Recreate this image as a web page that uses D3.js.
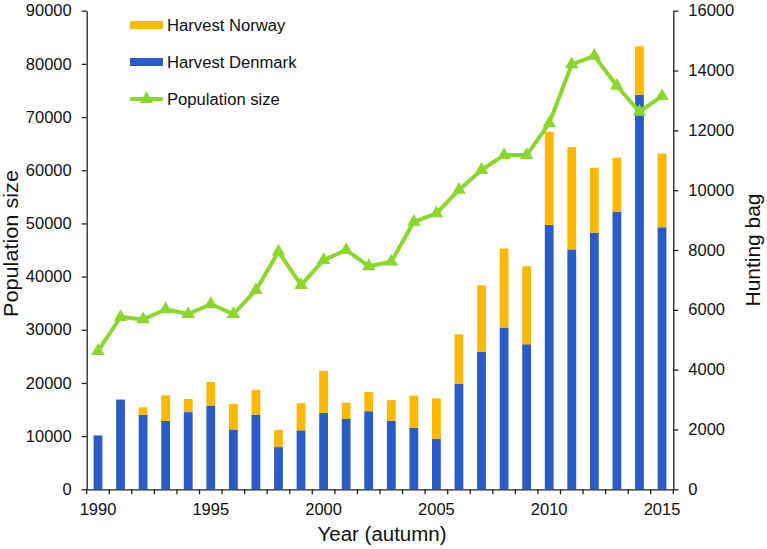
<!DOCTYPE html>
<html>
<head>
<meta charset="utf-8">
<script src="https://cdn.jsdelivr.net/npm/d3@7"></script>
<style>
  html, body { margin: 0; padding: 0; background: #fff; }
  svg { display: block; font-family: "Liberation Sans", Arial, sans-serif; }
</style>
</head>
<body>
<svg id="chart" width="767" height="549"></svg>
<script>
// ---------------- data ----------------
const years = [1990,1991,1992,1993,1994,1995,1996,1997,1998,1999,2000,2001,2002,
               2003,2004,2005,2006,2007,2008,2009,2010,2011,2012,2013,2014,2015];
const harvestDenmark = [1800,3000,2490,2290,2580,2800,2000,2490,1410,1970,2560,2350,2610,
                        2290,2060,1690,3520,4600,5410,4850,8840,8020,8580,9270,13190,8760];
const harvestNorway  = [0,0,250,850,440,790,850,830,570,910,1400,545,640,
                        690,1070,1350,1660,2220,2640,2610,3110,3420,2170,1815,1620,2460];
const populationSize = [26000,32400,31950,33850,32950,34850,32950,37450,44700,38400,43100,45000,41950,
                        42800,50300,51900,56300,60050,62850,62850,68800,79900,81500,75850,71000,73950];
const leftTicks  = [0,10000,20000,30000,40000,50000,60000,70000,80000,90000];
const rightTicks = [0,2000,4000,6000,8000,10000,12000,14000,16000];
const yearLabels = [1990,1995,2000,2005,2010,2015];
const seriesNames = ["Harvest Norway","Harvest Denmark","Population size"];

// ---------------- styles ----------------
const COL_NOR = "#ffb800", COL_DEN = "#2a5bc6", COL_POP = "#8ad82c";
const plot = {left: 86.7, right: 673.3, top: 10.7, bottom: 489.3};

const svg = d3.select("#chart");

const xBand = d3.scaleBand().domain(years).range([plot.left, plot.right])
  .paddingInner(0.61).paddingOuter(0.305);
const xStep = d3.scaleBand().domain(years).range([plot.left, plot.right]).padding(0);
const yLeft = d3.scaleLinear().domain([0, 90000]).range([plot.bottom, plot.top]);
const yRight = d3.scaleLinear().domain([0, 16000]).range([plot.bottom, plot.top]);
const cx = d => xBand(d) + xBand.bandwidth() / 2;

function stretch(sel, k) {
  sel.each(function() {
    const len = this.getComputedTextLength();
    d3.select(this).attr("textLength", len * k).attr("lengthAdjust", "spacingAndGlyphs");
  });
}

// ---------------- bars ----------------
const rows = years.map((y, i) => ({year: y, den: harvestDenmark[i], nor: harvestNorway[i]}));
const gBars = svg.append("g");
gBars.selectAll("rect.den").data(rows).join("rect").attr("class", "den")
  .attr("x", d => xBand(d.year)).attr("width", xBand.bandwidth())
  .attr("y", d => yRight(d.den)).attr("height", d => yRight(0) - yRight(d.den))
  .attr("fill", COL_DEN);
gBars.selectAll("rect.nor").data(rows.filter(d => d.nor > 0)).join("rect").attr("class", "nor")
  .attr("x", d => xBand(d.year)).attr("width", xBand.bandwidth())
  .attr("y", d => yRight(d.den + d.nor)).attr("height", d => yRight(d.den) - yRight(d.den + d.nor))
  .attr("fill", COL_NOR);

// ---------------- line ----------------
const pts = years.map((y, i) => [cx(y), yLeft(populationSize[i])]);
svg.append("path").attr("d", d3.line()(pts))
  .attr("fill", "none").attr("stroke", COL_POP).attr("stroke-width", 4).attr("stroke-linejoin", "round");
const tri = d3.symbol(d3.symbolTriangle, 80)();
svg.selectAll("path.mk").data(pts).join("path").attr("class", "mk")
  .attr("d", tri).attr("transform", d => `translate(${d[0]},${d[1]})`).attr("fill", COL_POP);

// ---------------- axes ----------------
const axCol = "#222";
const gL = svg.append("g").attr("transform", `translate(${plot.left},0)`)
  .call(d3.axisLeft(yLeft).tickValues(leftTicks).tickSize(5).tickSizeOuter(0).tickPadding(10).tickFormat(d3.format("d")));
const gR = svg.append("g").attr("transform", `translate(${plot.right},0)`)
  .call(d3.axisRight(yRight).tickValues(rightTicks).tickSize(5).tickSizeOuter(0).tickPadding(10).tickFormat(d3.format("d")));
const gB = svg.append("g").attr("transform", `translate(0,${plot.bottom})`)
  .call(d3.axisBottom(xStep).tickValues([]).tickSizeOuter(0));
// boundary ticks
const bounds = years.map(y => xStep(y)).concat([plot.right]);
gB.selectAll("line.bt").data(bounds).join("line").attr("class", "bt")
  .attr("x1", d => d).attr("x2", d => d).attr("y1", 0).attr("y2", 5).attr("stroke", axCol).attr("stroke-width", 1.3);
gB.selectAll("text.yl").data(yearLabels).join("text").attr("class", "yl")
  .attr("x", d => cx(d)).attr("y", 25.5).attr("text-anchor", "middle")
  .attr("font-size", 16).attr("fill", "#111").text(d => d);

[gL, gR, gB].forEach(g => {
  g.select(".domain").attr("stroke", axCol).attr("stroke-width", 1.3);
  g.selectAll(".tick line").attr("stroke", axCol).attr("stroke-width", 1.3);
  g.selectAll(".tick text").attr("font-size", 16).attr("fill", "#111").attr("font-family", null);
});
stretch(svg.selectAll(".tick text, text.yl"), 1.03);

// ---------------- titles ----------------
const tX = svg.append("text").attr("x", 382).attr("y", 541).attr("text-anchor", "middle")
  .attr("font-size", 20).attr("fill", "#111").text("Year (autumn)");
const tL = svg.append("text").attr("transform", "translate(17.5,243.5) rotate(-90)").attr("text-anchor", "middle")
  .attr("font-size", 20).attr("fill", "#111").text("Population size");
const tR = svg.append("text").attr("transform", "translate(759.5,250) rotate(-90)").attr("text-anchor", "middle")
  .attr("font-size", 20).attr("fill", "#111").text("Hunting bag");
tX.attr("textLength", 129).attr("lengthAdjust", "spacingAndGlyphs");
tL.attr("textLength", 147).attr("lengthAdjust", "spacingAndGlyphs");
tR.attr("textLength", 113).attr("lengthAdjust", "spacingAndGlyphs");

// ---------------- legend ----------------
const lg = svg.append("g");
const legY = [25, 62, 99];
lg.append("rect").attr("x", 130).attr("y", legY[0] - 4).attr("width", 33).attr("height", 8).attr("fill", COL_NOR);
lg.append("rect").attr("x", 130).attr("y", legY[1] - 4).attr("width", 33).attr("height", 8).attr("fill", COL_DEN);
lg.append("line").attr("x1", 130).attr("x2", 163).attr("y1", legY[2]).attr("y2", legY[2])
  .attr("stroke", COL_POP).attr("stroke-width", 4);
lg.append("path").attr("d", tri).attr("transform", `translate(146.5,${legY[2]})`).attr("fill", COL_POP);
const lt = lg.selectAll("text").data(seriesNames).join("text")
  .attr("x", 167).attr("y", (d, i) => legY[i]).attr("dy", "0.36em")
  .attr("font-size", 16).attr("fill", "#111").text(d => d);
stretch(lt, 1.04);
</script>
</body>
</html>
